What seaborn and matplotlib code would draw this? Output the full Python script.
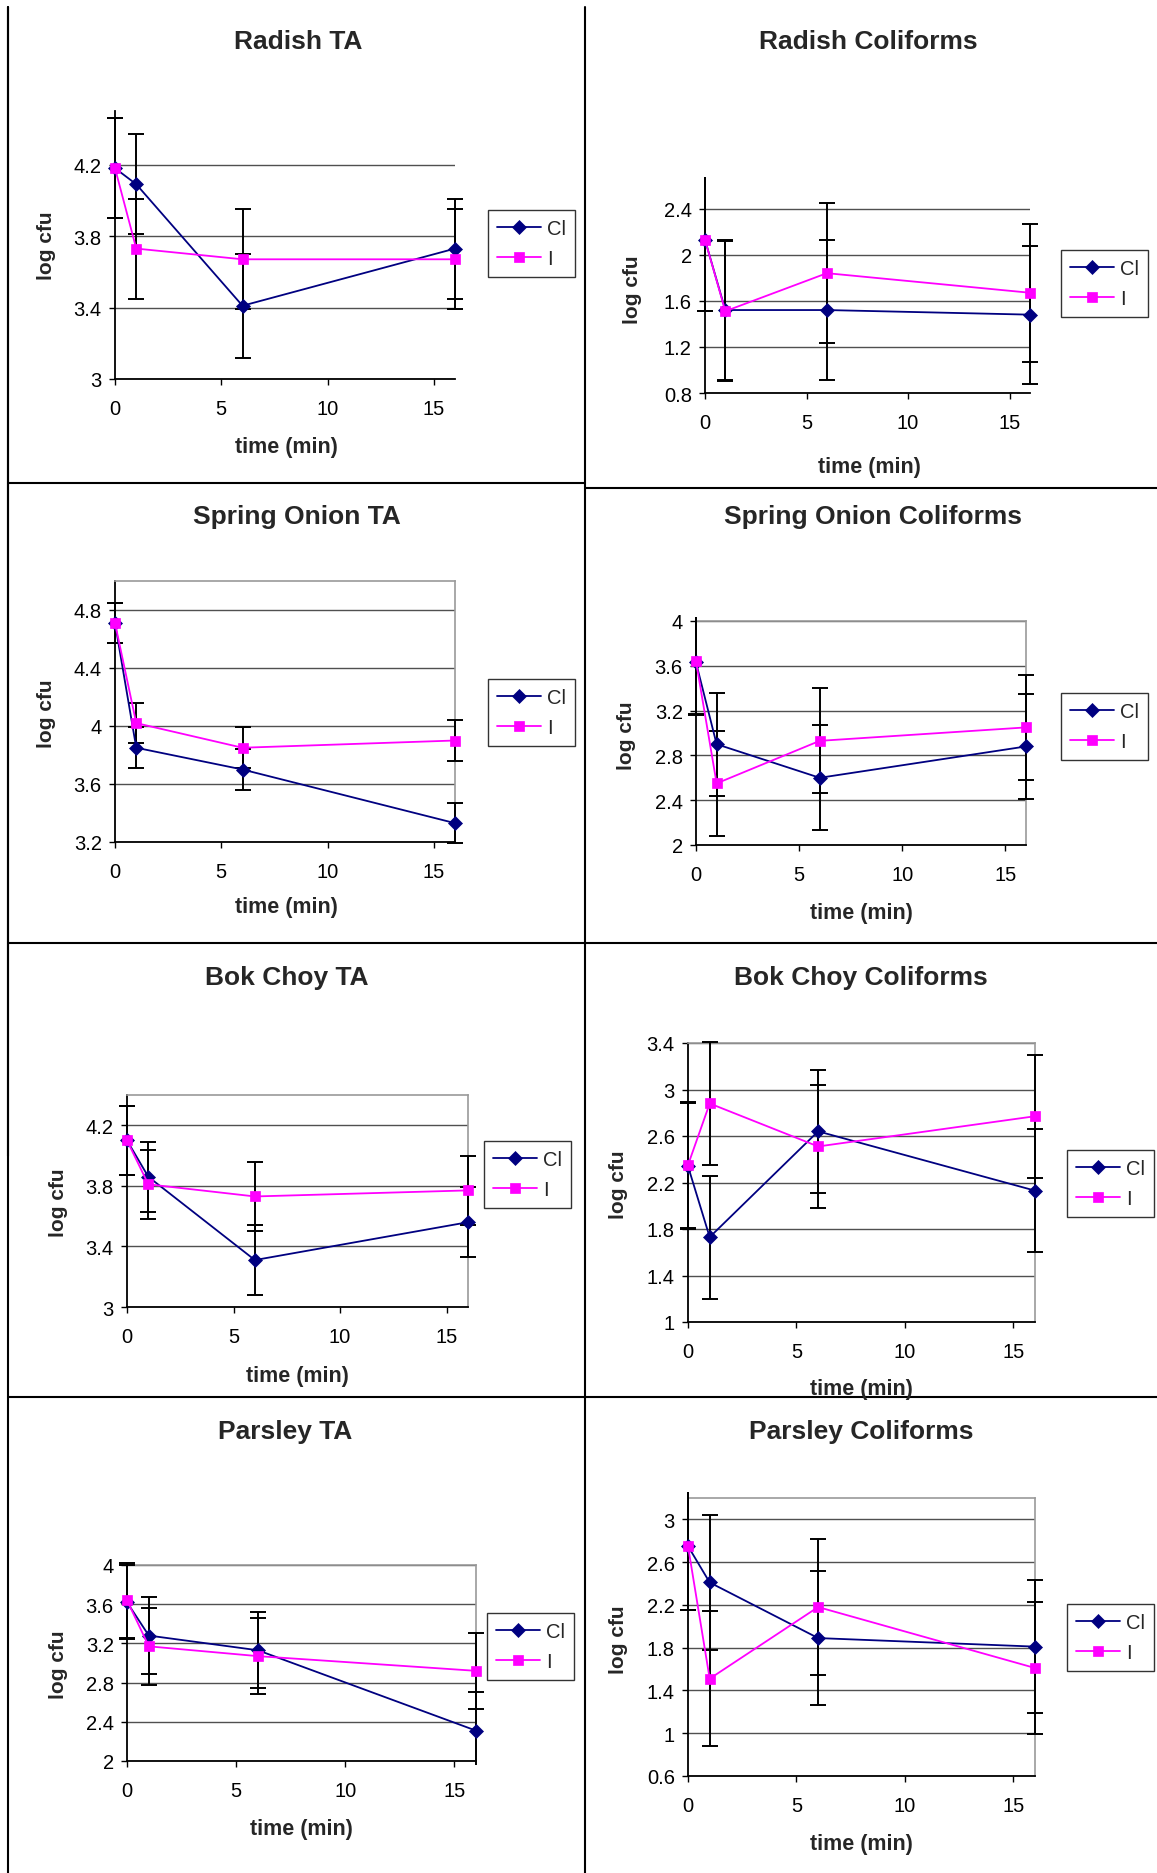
import matplotlib
matplotlib.use("Agg")
import matplotlib.pyplot as plt
from matplotlib.lines import Line2D
from matplotlib.patches import Rectangle
import seaborn as sns

# sampling times (min)
time_min = [0, 1, 6, 16]
x_ticks = [0, 5, 10, 15]

# Radish TA
radish_ta_cl = [4.18, 4.09, 3.41, 3.73]
radish_ta_i = [4.18, 3.73, 3.67, 3.67]
radish_ta_cl_err = [0.28, 0.28, 0.29, 0.28]
radish_ta_i_err = [0.28, 0.28, 0.28, 0.28]
radish_ta_yticks = [3, 3.4, 3.8, 4.2]

# Radish Coliforms
radish_co_cl = [2.13, 1.52, 1.52, 1.48]
radish_co_i = [2.13, 1.51, 1.84, 1.67]
radish_co_cl_err = [0.62, 0.61, 0.61, 0.60]
radish_co_i_err = [0.62, 0.61, 0.61, 0.60]
radish_co_yticks = [0.8, 1.2, 1.6, 2, 2.4]

# Spring Onion TA
onion_ta_cl = [4.71, 3.85, 3.70, 3.33]
onion_ta_i = [4.71, 4.02, 3.85, 3.90]
onion_ta_cl_err = [0.14, 0.14, 0.14, 0.14]
onion_ta_i_err = [0.14, 0.14, 0.14, 0.14]
onion_ta_yticks = [3.2, 3.6, 4, 4.4, 4.8]

# Spring Onion Coliforms
onion_co_cl = [3.63, 2.90, 2.60, 2.88]
onion_co_i = [3.64, 2.55, 2.93, 3.05]
onion_co_cl_err = [0.47, 0.46, 0.47, 0.47]
onion_co_i_err = [0.47, 0.47, 0.47, 0.47]
onion_co_yticks = [2, 2.4, 2.8, 3.2, 3.6, 4]

# Bok Choy TA
bok_ta_cl = [4.10, 3.86, 3.31, 3.56]
bok_ta_i = [4.10, 3.81, 3.73, 3.77]
bok_ta_cl_err = [0.23, 0.23, 0.23, 0.23]
bok_ta_i_err = [0.23, 0.23, 0.23, 0.23]
bok_ta_yticks = [3, 3.4, 3.8, 4.2]

# Bok Choy Coliforms
bok_co_cl = [2.34, 1.73, 2.64, 2.13]
bok_co_i = [2.35, 2.88, 2.51, 2.77]
bok_co_cl_err = [0.54, 0.53, 0.53, 0.53]
bok_co_i_err = [0.54, 0.53, 0.53, 0.53]
bok_co_yticks = [1, 1.4, 1.8, 2.2, 2.6, 3, 3.4]

# Parsley TA
parsley_ta_cl = [3.62, 3.28, 3.13, 2.31]
parsley_ta_i = [3.64, 3.17, 3.07, 2.92]
parsley_ta_cl_err = [0.38, 0.39, 0.39, 0.39]
parsley_ta_i_err = [0.38, 0.39, 0.39, 0.39]
parsley_ta_yticks = [2, 2.4, 2.8, 3.2, 3.6, 4]

# Parsley Coliforms
parsley_co_cl = [2.75, 2.41, 1.89, 1.81]
parsley_co_i = [2.75, 1.51, 2.18, 1.61]
parsley_co_cl_err = [0.60, 0.63, 0.63, 0.62]
parsley_co_i_err = [0.60, 0.63, 0.64, 0.62]
parsley_co_yticks = [0.6, 1, 1.4, 1.8, 2.2, 2.6, 3]

panels = [
    ("Radish TA", radish_ta_cl, radish_ta_i, radish_ta_cl_err, radish_ta_i_err, radish_ta_yticks),
    ("Radish Coliforms", radish_co_cl, radish_co_i, radish_co_cl_err, radish_co_i_err, radish_co_yticks),
    ("Spring Onion TA", onion_ta_cl, onion_ta_i, onion_ta_cl_err, onion_ta_i_err, onion_ta_yticks),
    ("Spring Onion Coliforms", onion_co_cl, onion_co_i, onion_co_cl_err, onion_co_i_err, onion_co_yticks),
    ("Bok Choy TA", bok_ta_cl, bok_ta_i, bok_ta_cl_err, bok_ta_i_err, bok_ta_yticks),
    ("Bok Choy Coliforms", bok_co_cl, bok_co_i, bok_co_cl_err, bok_co_i_err, bok_co_yticks),
    ("Parsley TA", parsley_ta_cl, parsley_ta_i, parsley_ta_cl_err, parsley_ta_i_err, parsley_ta_yticks),
    ("Parsley Coliforms", parsley_co_cl, parsley_co_i, parsley_co_cl_err, parsley_co_i_err, parsley_co_yticks),
]

# layout in pixels: plot area (left, right, top, bottom), y limits, box,
# title centre, xlabel centre, ylabel centre, legend top-left corner
layout = [
    dict(area=(115, 455, 112, 380), ylim=(3, 4.5), box=False,
         title=(298, 42), xlab=(286, 448), ylab=(47, 246), leg=(488, 211)),
    dict(area=(705, 1030, 182, 394), ylim=(0.8, 2.64), box=False,
         title=(868, 42), xlab=(869, 468), ylab=(633, 290), leg=(1061, 251)),
    dict(area=(115, 455, 582, 843), ylim=(3.2, 5.0), box=True,
         title=(297, 517), xlab=(286, 908), ylab=(47, 714), leg=(488, 680)),
    dict(area=(696, 1026, 622, 846), ylim=(2, 4), box=True,
         title=(873, 517), xlab=(861, 913), ylab=(627, 736), leg=(1061, 694)),
    dict(area=(127, 468, 1096, 1308), ylim=(3, 4.4), box=True,
         title=(287, 978), xlab=(297, 1377), ylab=(59, 1203), leg=(484, 1142)),
    dict(area=(688, 1035, 1044, 1323), ylim=(1, 3.4), box=True,
         title=(861, 978), xlab=(861, 1390), ylab=(619, 1185), leg=(1067, 1151)),
    dict(area=(127, 476, 1566, 1762), ylim=(2, 4), box=True,
         title=(285, 1432), xlab=(301, 1830), ylab=(59, 1665), leg=(487, 1614)),
    dict(area=(688, 1035, 1499, 1777), ylim=(0.6, 3.2), box=True,
         title=(861, 1432), xlab=(861, 1845), ylab=(619, 1640), leg=(1067, 1605)),
]

W, H = 1157, 1874
CL_COLOR = "#000080"
I_COLOR = "#FF00FF"

sns.set_theme(style="ticks")
plt.rcParams["font.family"] = ["Liberation Sans", "DejaVu Sans"]

fig = plt.figure(figsize=(W / 100, H / 100), dpi=100)
fig.patch.set_facecolor("white")


def fx(x):
    return x / W


def fy(y):
    return 1 - y / H


for (title, cl, i_vals, cl_err, i_err, yticks), lay in zip(panels, layout):
    x0, x1, yt, yb = lay["area"]
    ax = fig.add_axes([fx(x0), fy(yb), fx(x1) - fx(x0), fy(yt) - fy(yb)])
    ax.set_facecolor("white")

    # error bars above the gray box, below the series lines
    clip = Rectangle((-0.1, -0.02), 1.2, 1.04, transform=ax.transAxes)
    for vals, err in ((cl, cl_err), (i_vals, i_err)):
        eb = ax.errorbar(time_min, vals, yerr=err, fmt="none", ecolor="black",
                         elinewidth=1.4, capsize=5.5, capthick=1.4, zorder=2.7)
        for art in list(eb[1]) + list(eb[2]):
            art.set_clip_path(clip)

    sns.lineplot(x=time_min, y=cl, ax=ax, color=CL_COLOR, marker="D",
                 markersize=7.5, markeredgecolor=CL_COLOR, markeredgewidth=0.5,
                 linewidth=1.3, label="Cl", clip_on=False, zorder=3)
    sns.lineplot(x=time_min, y=i_vals, ax=ax, color=I_COLOR, marker="s",
                 markersize=7.5, markeredgecolor=I_COLOR, markeredgewidth=0.5,
                 linewidth=1.3, label="I", clip_on=False, zorder=4)

    ax.set_xlim(0, 16)
    ax.set_ylim(*lay["ylim"])
    ax.set_xticks(x_ticks)
    ax.set_xticklabels([str(v) for v in x_ticks])
    ax.set_yticks(yticks)
    ax.set_yticklabels([f"{v:g}" for v in yticks])
    ax.set_xlabel("")
    ax.set_ylabel("")
    ax.tick_params(axis="both", direction="out", length=4.5, width=1,
                   color="black", labelsize=14.5, labelcolor="black")
    ax.tick_params(axis="x", pad=10)
    ax.tick_params(axis="y", pad=5)

    for v in yticks:
        ax.axhline(v, color="#505050", linewidth=1.0, zorder=1)

    ax.spines["left"].set_color("black")
    ax.spines["bottom"].set_color("black")
    ax.spines["left"].set_linewidth(1.3)
    ax.spines["bottom"].set_linewidth(1.3)
    if lay["box"]:
        ax.spines["top"].set_color("#9a9a9a")
        ax.spines["right"].set_color("#9a9a9a")
        ax.spines["top"].set_linewidth(1.2)
        ax.spines["right"].set_linewidth(1.2)
    else:
        ax.spines["top"].set_visible(False)
        ax.spines["right"].set_visible(False)

    lx, ly = lay["leg"]
    leg = ax.legend(loc="upper left", bbox_to_anchor=(fx(lx), fy(ly)),
                    bbox_transform=fig.transFigure, borderaxespad=0,
                    frameon=True, fancybox=False, fontsize=14.5,
                    handlelength=2.2, handletextpad=0.3, labelspacing=0.55,
                    borderpad=0.45)
    leg.get_frame().set_edgecolor("black")
    leg.get_frame().set_linewidth(1.0)

    tx, ty = lay["title"]
    fig.text(fx(tx), fy(ty), title, ha="center", va="center",
             fontsize=19, fontweight="bold")
    xx, xy = lay["xlab"]
    fig.text(fx(xx), fy(xy), "time (min)", ha="center", va="center",
             fontsize=15.5, fontweight="bold")
    yx, yy = lay["ylab"]
    fig.text(fx(yx), fy(yy), "log cfu", ha="center", va="center",
             rotation=90, fontsize=15, fontweight="bold")

# panel frame lines
frame = [
    ((8, 8), (8, W)),
    ((8, 8), (H, 8)),
    ((585, 585), (8, H)),
    ((8, 585), (484, 484)),
    ((8, 585), (944, 944)),
    ((8, 585), (1398, 1398)),
    ((585, W), (489, 489)),
    ((585, W), (944, 944)),
    ((585, W), (1398, 1398)),
]
for (xa, xb), (ya, yb) in frame:
    fig.add_artist(Line2D([fx(xa), fx(xb)], [fy(ya), fy(yb)],
                          transform=fig.transFigure, color="black", linewidth=1.5))

fig.savefig("out.png", dpi=100, facecolor="white")
